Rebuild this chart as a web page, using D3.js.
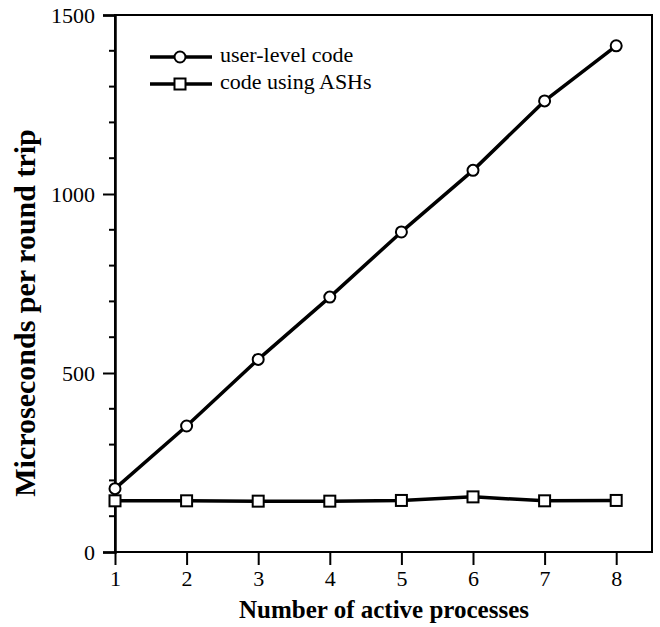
<!DOCTYPE html>
<html><head><meta charset="utf-8">
<script src="https://cdn.jsdelivr.net/npm/d3@7"></script>
<style>body{margin:0;background:#fff}svg{display:block}text{font-family:"Liberation Serif","Times New Roman",serif;fill:#000}</style>
</head><body><svg id="c" width="660" height="627"></svg>
<script>
const processes = [1,2,3,4,5,6,7,8];
const userLevel = [177,352,538,712,894,1066,1260,1414];
const ashCode = [143,143,142,142,144,154,143,144];
const seriesNames = ["user-level code","code using ASHs"];
const yTicks = [0,500,1000,1500];
const xTicks = [1,2,3,4,5,6,7,8];

const svg = d3.select("#c");
const L=115, R=652, T=15, B=552;
const x = d3.scaleLinear().domain([1,8.5]).range([L,R]);
const y = d3.scaleLinear().domain([0,1500]).range([B,T]);

// frame
svg.append("rect").attr("x",L).attr("y",T).attr("width",R-L).attr("height",B-T)
  .attr("fill","none").attr("stroke","#000").attr("stroke-width",2);

// y axis
const yAx = svg.append("g").attr("transform",`translate(${L},0)`)
  .call(d3.axisLeft(y).tickValues(yTicks).tickSize(12).tickPadding(8).tickFormat(d3.format("d")));
yAx.attr("font-family",null);
yAx.select(".domain").attr("stroke-width",2.5);
yAx.selectAll(".tick line").attr("stroke-width",2);
yAx.selectAll("text").style("font-size","22px");
const minor = d3.range(0,1501,100).filter(v=>v%500!==0);
svg.append("g").selectAll("line").data(minor).join("line")
  .attr("x1",L-6).attr("x2",L).attr("y1",d=>y(d)).attr("y2",d=>y(d))
  .attr("stroke","#000").attr("stroke-width",2);

// x axis
const xAx = svg.append("g").attr("transform",`translate(0,${B})`)
  .call(d3.axisBottom(x).tickValues(xTicks).tickSize(13).tickPadding(5).tickFormat(d3.format("d")));
xAx.attr("font-family",null);
xAx.select(".domain").remove();
xAx.selectAll(".tick line").attr("stroke-width",2);
xAx.selectAll("text").style("font-size","22px");

// titles
svg.append("text").attr("x",384).attr("y",618).attr("text-anchor","middle")
  .style("font-size","25px").style("font-weight","bold").text("Number of active processes");
svg.append("text").attr("transform","translate(35,313) rotate(-90)").attr("text-anchor","middle")
  .style("font-size","30px").style("font-weight","bold").text("Microseconds per round trip");

// lines
const line = d3.line().x((d,i)=>x(processes[i])).y(d=>y(d));
[userLevel, ashCode].forEach(s=>{
  svg.append("path").datum(s).attr("d",line).attr("fill","none")
    .attr("stroke","#000").attr("stroke-width",3.5).attr("stroke-linejoin","round");
});
svg.append("g").selectAll("circle").data(userLevel).join("circle")
  .attr("cx",(d,i)=>x(processes[i])).attr("cy",d=>y(d)).attr("r",5.5)
  .attr("fill","#fff").attr("stroke","#000").attr("stroke-width",2);
svg.append("g").selectAll("rect").data(ashCode).join("rect")
  .attr("x",(d,i)=>x(processes[i])-5.5).attr("y",d=>y(d)-5.5).attr("width",11).attr("height",11)
  .attr("fill","#fff").attr("stroke","#000").attr("stroke-width",2);

// legend
const lg = svg.append("g");
const ly = [57,84];
seriesNames.forEach((n,i)=>{
  lg.append("line").attr("x1",150).attr("x2",212).attr("y1",ly[i]).attr("y2",ly[i])
    .attr("stroke","#000").attr("stroke-width",3.5);
  if(i===0) lg.append("circle").attr("cx",180).attr("cy",ly[i]).attr("r",5.5)
    .attr("fill","#fff").attr("stroke","#000").attr("stroke-width",2);
  else lg.append("rect").attr("x",174.5).attr("y",ly[i]-5.5).attr("width",11).attr("height",11)
    .attr("fill","#fff").attr("stroke","#000").attr("stroke-width",2);
  lg.append("text").attr("x",220).attr("y",ly[i]+5).style("font-size","22px").text(n);
});
</script></body></html>
